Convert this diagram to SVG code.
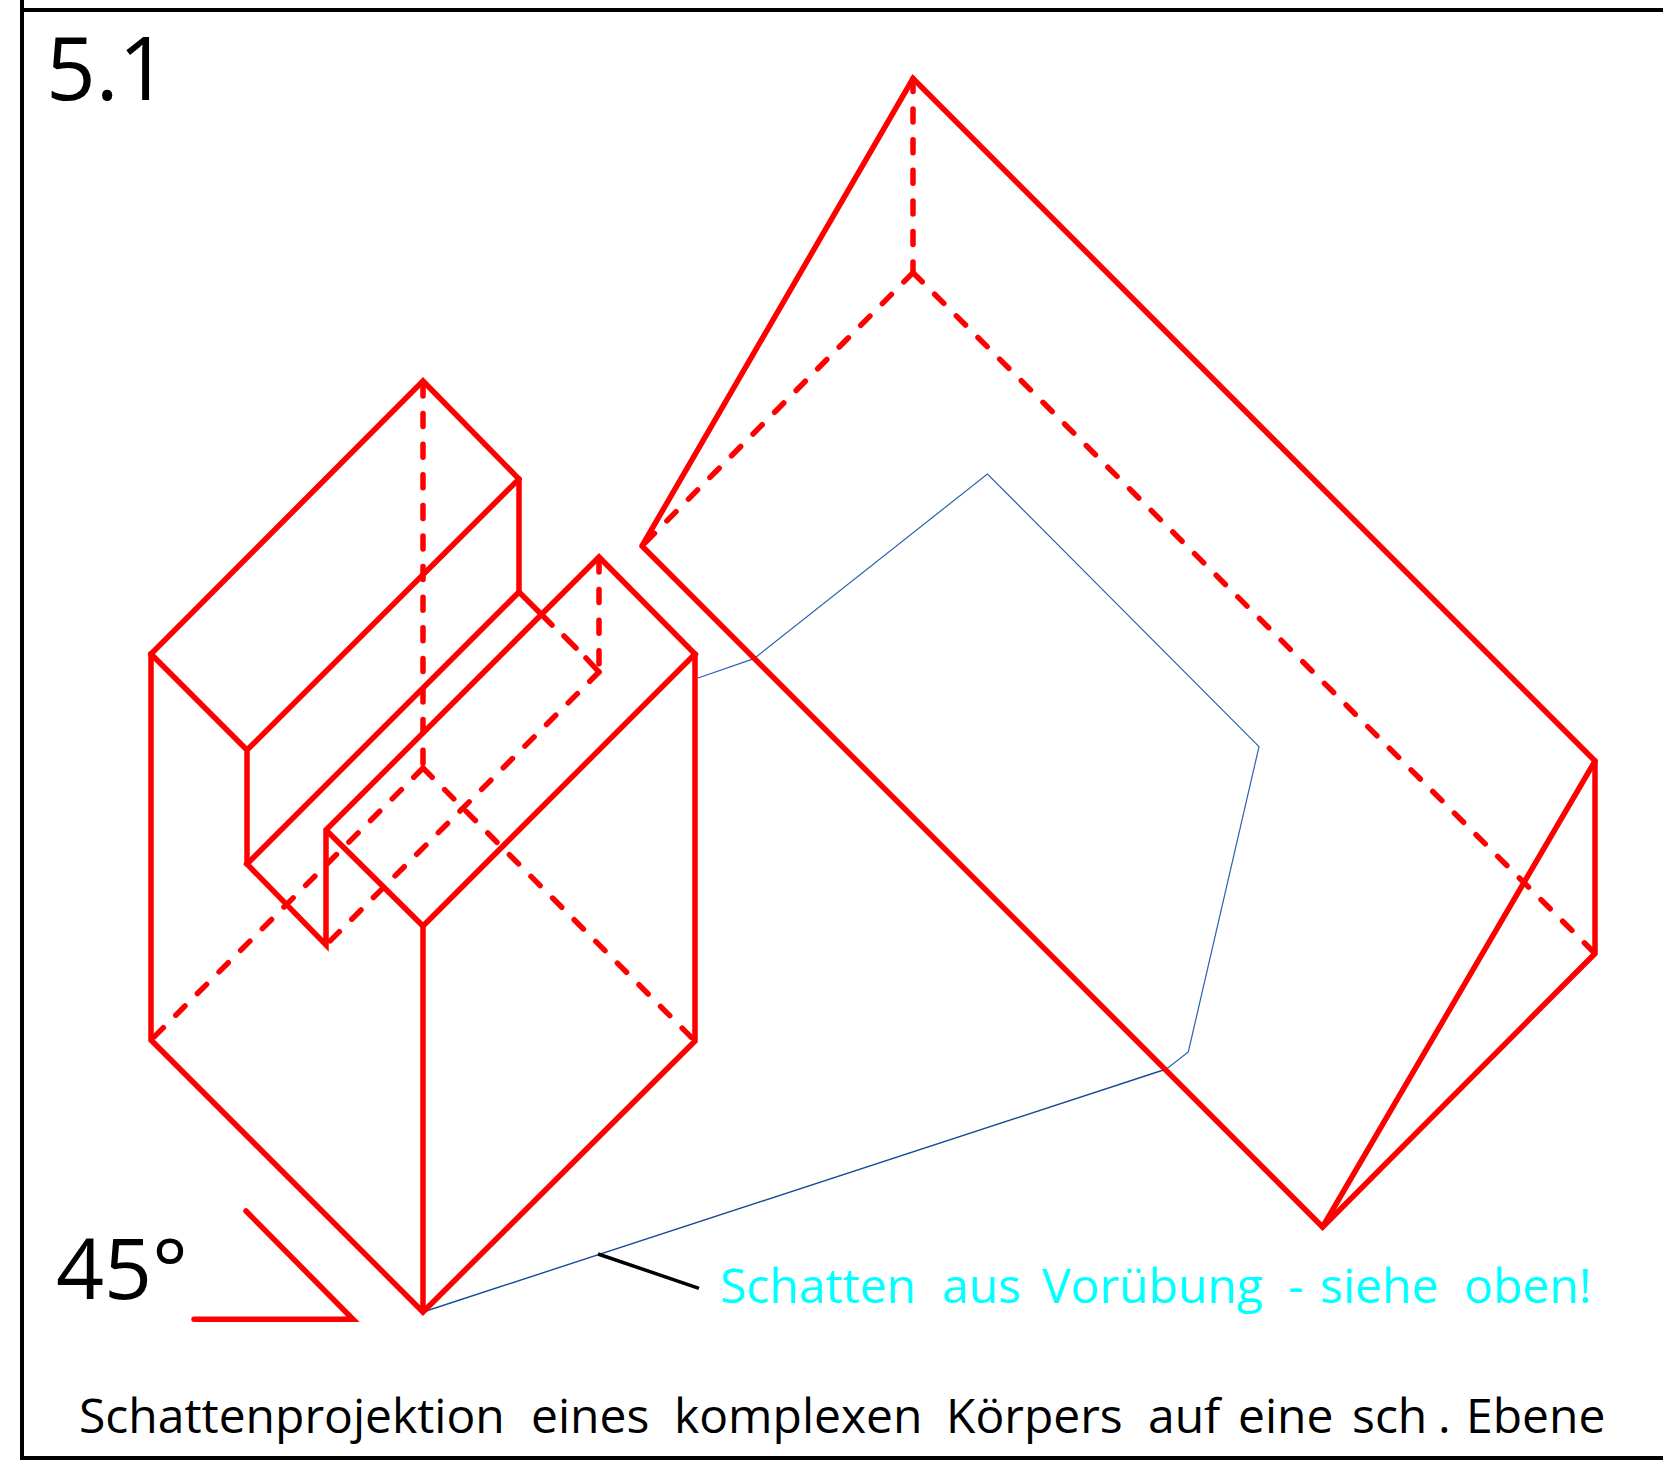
<svg xmlns="http://www.w3.org/2000/svg" width="1663" height="1478" viewBox="0 0 1663 1478">
<style>
.s{fill:none;stroke:#ff0000;stroke-width:5.5;stroke-linejoin:miter;stroke-linecap:round}
.d{fill:none;stroke:#ff0000;stroke-width:5.5;stroke-linecap:round;stroke-dasharray:13 17.6}
.b{fill:none;stroke:#2a63ad;stroke-width:1.2}
.b2{fill:none;stroke:#1a4b96;stroke-width:1.4}
.t{font-family:"Open Sans","Noto Sans",sans-serif}
</style>
<rect width="1663" height="1478" fill="#fff"/>
<g id="frame" fill="none" stroke="#000" stroke-width="4">
<path d="M22 0V1458H1663"/><path d="M22 10H1663"/>
</g>
<g id="shadow-outline">
<path class="b" d="M698 678L754 658.6L987.4 474L1259 746.7L1188.3 1052L1166.5 1069"/>
<path class="b2" d="M1166.5 1069L423 1312"/>
</g>
<g id="body">
<path class="s" d="M151 654L423 381L519 479V592L247 864L326 945V830L599 557L695 654L423 926L326 830"/>
<path class="s" d="M151 654L247 750L519 479M247 750V864"/>
<path class="s" d="M151 654V1040L423 1312L695 1041V654M423 926V1312"/>
<path class="d" d="M423 383V768"/><path class="d" d="M423 768L151 1040"/><path class="d" d="M423 768L695 1041"/>
<path class="s" d="M519 592L552 625M564 636L576 648M586 658L599 672"/><path class="d" d="M599 559V672"/><path class="d" d="M599 672L326 945"/>
</g>
<g id="shadow">
<path class="s" d="M642 546L913 78.5L1595 761V953.5L1322.6 1227L642 546"/>
<path class="s" d="M1322.6 1227L1595 761"/>
<path class="d" d="M913 78.5V272.6"/><path class="d" d="M913 272.6L642 546"/><path class="d" d="M913 272.6L1595 953.5"/>
</g>
<g id="angle"><path class="s" d="M246 1211L353 1319.3H194"/></g>
<g id="leader"><path d="M598 1254L699 1288.3" stroke="#000" stroke-width="3.5" fill="none"/></g>
<text class="t" x="46" y="100" font-size="87">5.1</text>
<text class="t" x="56" y="1299" font-size="84">45°</text>
<text class="t" y="1303" font-size="48" fill="#00ffff"><tspan x="720">Schatten</tspan> <tspan x="942">aus</tspan> <tspan x="1042">Vorübung</tspan> <tspan x="1288">-</tspan> <tspan x="1320">siehe</tspan> <tspan x="1464">oben!</tspan></text>
<text class="t" y="1433" font-size="48" fill="#000"><tspan x="79">Schattenprojektion</tspan> <tspan x="531">eines</tspan> <tspan x="674">komplexen</tspan> <tspan x="946">Körpers</tspan> <tspan x="1148">auf</tspan> <tspan x="1238">eine</tspan> <tspan x="1352">sch</tspan> <tspan x="1438">.</tspan> <tspan x="1466">Ebene</tspan></text>
</svg>
